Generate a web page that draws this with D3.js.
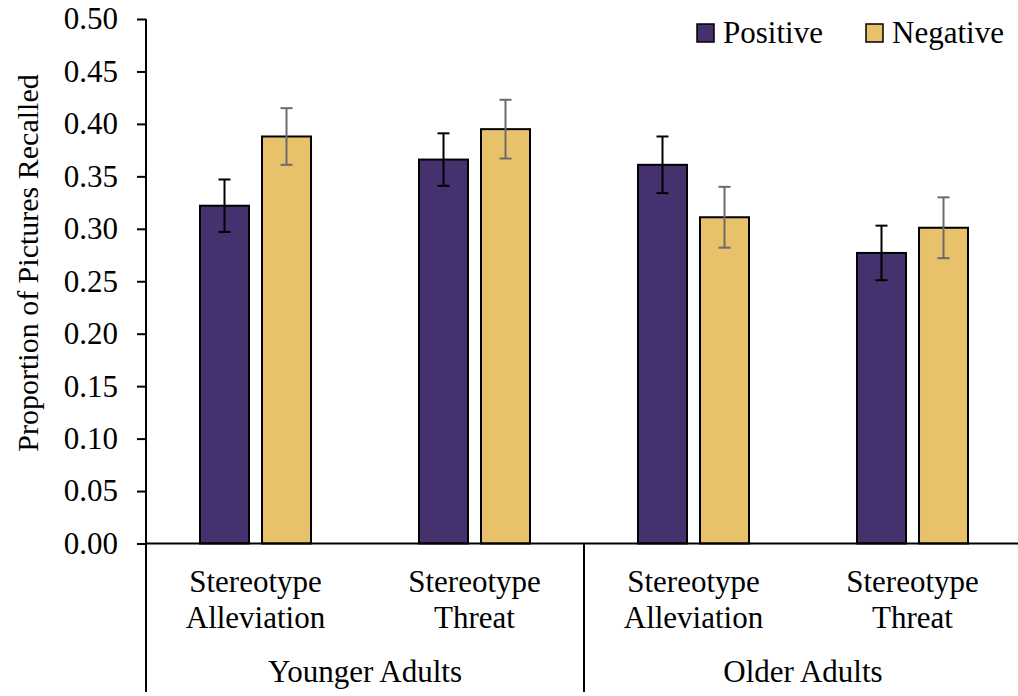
<!DOCTYPE html>
<html>
<head>
<meta charset="utf-8">
<script src="https://cdn.jsdelivr.net/npm/d3@7"></script>
<style>
  html, body { margin: 0; padding: 0; background: #fff; }
  svg { display: block; }
</style>
</head>
<body>
<svg id="chart" width="1018" height="696"></svg>
<script>
// ---- data ----
const ageGroups = ["Younger Adults", "Older Adults"];
const conditions = ["Stereotype Alleviation", "Stereotype Threat"];
const series = ["Positive", "Negative"];
const positiveValues = [0.322, 0.366, 0.361, 0.277];
const positiveErrors = [0.025, 0.025, 0.027, 0.026];
const negativeValues = [0.388, 0.395, 0.311, 0.301];
const negativeErrors = [0.027, 0.028, 0.029, 0.029];
const yTicks = [0.00, 0.05, 0.10, 0.15, 0.20, 0.25, 0.30, 0.35, 0.40, 0.45, 0.50];
const yTitle = "Proportion of Pictures Recalled";

// ---- styling ----
const colors = { Positive: "#46316F", Negative: "#E8C16B" };
const errColors = { Positive: "#000000", Negative: "#6b6b6b" };
const fontSize = 31;
const FONT = "'Liberation Serif'";

// build category keys
const cats = [];
ageGroups.forEach((g) => conditions.forEach((c) => cats.push({ key: g + "|" + c, group: g, cond: c })));
const rows = cats.map((c, i) => ({
  key: c.key,
  vals: [
    { s: "Positive", v: positiveValues[i], e: positiveErrors[i] },
    { s: "Negative", v: negativeValues[i], e: negativeErrors[i] }
  ]
}));

const svg = d3.select("#chart");
const left = 146, right = 1022, y0px = 543.5, ytop = 19, bottomEnd = 692;

const x0 = d3.scaleBand().domain(cats.map(d => d.key)).range([left, right]).padding(0);
const bw = x0.bandwidth();
const x1 = d3.scaleBand().domain(series).range([bw / 2 - 55.5, bw / 2 + 55.5]).paddingInner(0.21);
const y = d3.scaleLinear().domain([0, 0.5]).range([y0px, ytop]);

// y axis
const yAxis = d3.axisLeft(y).tickValues(yTicks).tickFormat(d3.format(".2f")).tickSize(9).tickSizeOuter(0).tickPadding(19);
const gy = svg.append("g").attr("transform", `translate(${left},0)`).call(yAxis);
gy.attr("font-family", null).attr("font-size", null);
gy.select(".domain").remove();
gy.selectAll(".tick line").attr("stroke", "#000").attr("stroke-width", 2);
gy.selectAll(".tick text").style("font-size", fontSize + "px").style("font-family", FONT).attr("fill", "#000");

// bars
const groups = svg.append("g").selectAll("g").data(rows).join("g")
  .attr("transform", d => `translate(${x0(d.key)},0)`);

groups.selectAll("rect").data(d => d.vals).join("rect")
  .attr("x", d => x1(d.s))
  .attr("y", d => y(d.v))
  .attr("width", x1.bandwidth())
  .attr("height", d => y(0) - y(d.v))
  .attr("fill", d => colors[d.s])
  .attr("stroke", "#000")
  .attr("stroke-width", 2);

// error bars
const eb = groups.selectAll("g.err").data(d => d.vals).join("g").attr("class", "err");
eb.append("line")
  .attr("x1", d => x1(d.s) + x1.bandwidth() / 2).attr("x2", d => x1(d.s) + x1.bandwidth() / 2)
  .attr("y1", d => y(d.v + d.e)).attr("y2", d => y(d.v - d.e))
  .attr("stroke", d => errColors[d.s]).attr("stroke-width", 2);
[1, -1].forEach(sign => {
  eb.append("line")
    .attr("x1", d => x1(d.s) + x1.bandwidth() / 2 - 6).attr("x2", d => x1(d.s) + x1.bandwidth() / 2 + 6)
    .attr("y1", d => y(d.v + sign * d.e)).attr("y2", d => y(d.v + sign * d.e))
    .attr("stroke", d => errColors[d.s]).attr("stroke-width", 2);
});

// axes lines
svg.append("line").attr("x1", left).attr("x2", left).attr("y1", ytop).attr("y2", bottomEnd)
  .attr("stroke", "#000").attr("stroke-width", 2);
svg.append("line").attr("x1", left).attr("x2", right).attr("y1", y0px).attr("y2", y0px)
  .attr("stroke", "#000").attr("stroke-width", 2);
// group dividers
const divXs = [x0(cats[conditions.length].key), right];
divXs.forEach(xx => svg.append("line").attr("x1", xx).attr("x2", xx).attr("y1", y0px).attr("y2", bottomEnd)
  .attr("stroke", "#000").attr("stroke-width", 2));

function addText(sel) {
  return sel.append("text").style("font-family", FONT).attr("fill", "#000");
}

// category labels
cats.forEach(c => {
  const cx = x0(c.key) + bw / 2;
  const words = c.cond.split(" ");
  const t = addText(svg).attr("text-anchor", "middle").style("font-size", fontSize + "px");
  words.forEach((w, i) => t.append("tspan").attr("x", cx).attr("y", 592 + i * 35.5).text(w));
});
// group labels
ageGroups.forEach((g, gi) => {
  const first = x0(cats[gi * conditions.length].key);
  const last = x0(cats[gi * conditions.length + conditions.length - 1].key) + bw;
  addText(svg).attr("x", (first + last) / 2).attr("y", 682).attr("text-anchor", "middle")
    .style("font-size", fontSize + "px").text(g);
});

// y title
addText(svg).attr("transform", `translate(38,263) rotate(-90)`).attr("text-anchor", "middle")
  .style("font-size", "30px").text(yTitle);

// legend
const legendX = [697, 866];
series.forEach((s, i) => {
  svg.append("rect").attr("x", legendX[i]).attr("y", 24).attr("width", 17).attr("height", 18)
    .attr("fill", colors[s]).attr("stroke", "#000").attr("stroke-width", 1.5);
  addText(svg).attr("x", legendX[i] + 26).attr("y", 43).style("font-size", fontSize + "px").text(s);
});
</script>
</body>
</html>
